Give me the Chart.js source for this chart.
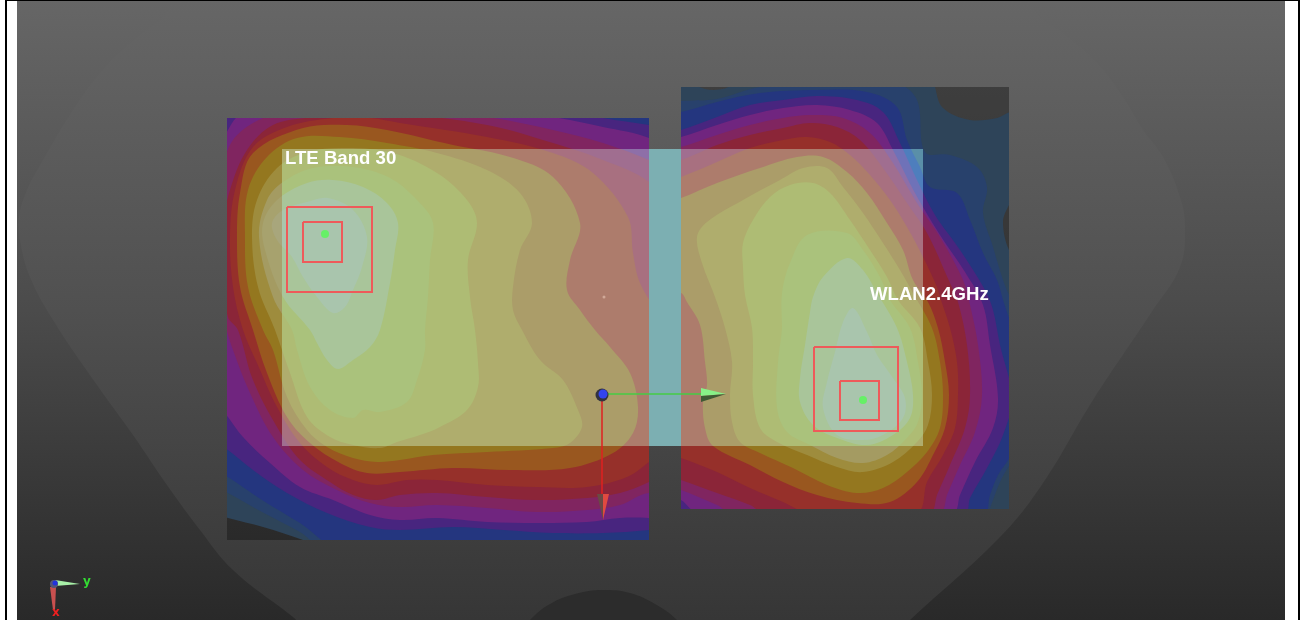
<!DOCTYPE html>
<html>
<head>
<meta charset="utf-8">
<title>SAR</title>
<script src="https://cdn.jsdelivr.net/npm/chart.js@4/dist/chart.umd.js"></script>
<style>
  html, body { margin: 0; padding: 0; background: #fff; overflow: hidden; }
  #frame { position: absolute; left: 5px; top: 0; width: 1291px; height: 620px; border: solid #000; border-width: 1px 2px 0 2px; }
  #scan { position: absolute; left: 0; top: 0; }
</style>
</head>
<body>
<div id="frame"></div>
<canvas id="scan" width="1303" height="620"></canvas>
<script>
// phantom outline and the darker dome at the bottom
const phantomOutline = [[190,-10],[160,20],[130,43],[100,73],[73,110],[43,160],[27,190],[19,217],[20,240],[30,277],[53,320],[97,385],[133,435],[167,485],[200,530],[233,570],[293,617],[320,640],[890,640],[910,620],[1000,537],[1043,483],[1093,400],[1153,310],[1180,267],[1185,227],[1180,197],[1163,157],[1143,130],[1123,97],[1097,63],[1063,33],[1040,17],[1015,-10]];
const domeOutline = [[515,640],[530,620],[550,604],[575,594],[603,590],[630,593],[655,604],[677,620],[692,640],[603,660]];

// left scan, contour levels from the outside in
const leftSlate = [[220,515],[228,518],[263,527],[303,540],[320,548],[660,548],[660,100],[220,100]];
const leftSteel = [[220,490],[228,493],[262,512],[300,532],[325,548],[660,548],[660,100],[220,100]];
const leftNavy = [[220,473],[228,477],[262,500],[300,523],[340,548],[660,550],[660,100],[220,100]];
const leftIndigo = [[220,445],[228,450],[253,470],[287,493],[327,513],[370,527],[400,530],[453,527],[503,530],[553,533],[603,533],[649,530],[665,527],[665,128],[649,125],[603,118],[553,108],[487,100],[300,95],[215,100]];
const leftPurple = [[220,407],[228,417],[243,437],[270,463],[300,487],[333,500],[370,515],[400,520],[437,518],[487,522],[537,523],[587,522],[620,518],[649,518],[667,520],[667,153],[649,138],[603,127],[553,117],[453,103],[320,93],[260,103],[237,117],[228,130],[222,143],[215,250]];
const leftMagenta = [[222,167],[233,140],[253,123],[280,112],[307,103],[403,108],[487,117],[553,130],[603,143],[649,160],[667,170],[667,503],[649,493],[620,505],[587,510],[537,512],[487,508],[437,505],[400,507],[370,503],[337,490],[303,470],[273,437],[250,393],[233,350],[225,323],[218,280],[215,200]];
const leftCrimson = [[230,190],[247,150],[273,125],[313,117],[353,112],[387,112],[487,125],[553,143],[603,160],[649,182],[667,210],[667,470],[649,482],[620,493],[587,498],[537,500],[487,497],[437,493],[400,495],[377,500],[353,495],[330,482],[300,460],[277,427],[253,380],[238,330],[228,317],[223,277],[223,227]];
const leftRed = [[230,237],[235,190],[253,147],[287,127],[333,118],[370,118],[400,123],[487,137],[553,153],[593,173],[628,217],[633,253],[640,283],[663,323],[667,343],[667,447],[649,462],[627,477],[587,487],[537,487],[487,485],[437,480],[407,480],[377,485],[353,480],[327,467],[300,443],[277,407],[257,363],[243,330],[233,287]];
const leftBrown = [[237,237],[240,193],[253,153],[303,128],[347,125],[387,130],[453,145],[510,157],[553,177],[580,223],[570,260],[567,290],[580,310],[595,330],[610,347],[630,373],[638,407],[633,433],[613,453],[570,468],[510,470],[453,468],[400,472],[367,473],[340,463],[310,443],[287,417],[267,373],[253,330],[240,287]];
const leftOlive = [[245,237],[248,190],[267,157],[297,138],[340,137],[387,143],[437,153],[487,170],[520,193],[532,223],[520,250],[513,287],[513,310],[522,330],[540,360],[563,380],[578,410],[582,427],[570,443],[553,448],[487,452],[433,455],[400,460],[377,462],[353,458],[327,447],[307,430],[287,397],[273,350],[263,330],[248,287]];
const leftYellow = [[252,237],[257,200],[277,168],[307,152],[347,148],[393,153],[437,173],[467,200],[477,223],[468,260],[470,297],[475,330],[478,363],[478,387],[467,410],[440,427],[420,435],[397,442],[380,448],[353,445],[330,437],[307,417],[290,373],[275,330],[258,287]];
const leftLime = [[259,237],[267,200],[283,182],[313,168],[353,167],[390,178],[417,200],[433,223],[430,260],[428,297],[425,330],[425,350],[417,380],[407,402],[380,412],[363,410],[353,418],[330,410],[310,387],[297,350],[292,330],[273,297]];
const leftGreen = [[265,250],[263,223],[277,200],[307,183],[333,180],[363,187],[387,203],[398,223],[395,250],[390,283],[380,330],[370,347],[353,360],[338,369],[327,360],[317,343],[310,330],[283,297]];
const leftPale = [[272,223],[283,210],[307,202],[328,198],[353,210],[367,237],[362,267],[353,290],[345,307],[333,313],[317,297],[303,277],[292,257],[277,240]];

// right scan, same levels
const rightSlate = [[1017,112],[997,118],[970,120],[943,108],[935,87],[933,73],[733,77],[730,86],[713,90],[697,86],[683,77],[663,77],[663,530],[1017,530],[1017,253],[1009,250],[1003,222],[1009,205],[1017,193]];
const rightSteel = [[670,102],[681,101],[717,99],[760,87],[817,84],[897,84],[917,100],[925,152],[950,155],[977,167],[987,187],[983,213],[993,247],[1003,280],[1013,307],[1020,350],[1020,440],[1000,482],[990,508],[987,515],[670,515]];
const rightNavy = [[670,112],[681,112],[717,102],[760,93],[817,90],[867,92],[897,107],[907,140],[920,167],[930,187],[957,193],[970,220],[983,253],[997,280],[1003,300],[1015,340],[1020,400],[1012,452],[998,475],[990,495],[983,515],[670,515]];
const rightIndigo = [[670,132],[681,130],[717,117],[750,105],[783,100],[817,96],[857,100],[883,112],[900,143],[917,180],[935,215],[960,250],[985,290],[993,310],[1000,345],[1012,398],[1003,435],[987,468],[970,498],[965,512],[670,512]];
const rightPurple = [[670,137],[681,137],[717,125],[750,115],[783,108],[817,105],[850,110],[877,123],[893,150],[915,193],[940,235],[965,272],[983,305],[990,345],[998,398],[993,428],[975,462],[960,495],[953,512],[697,512],[681,500],[670,498]];
const rightMagenta = [[670,147],[681,147],[717,135],[750,125],[783,118],[810,115],[843,118],[870,133],[893,163],[917,203],[940,237],[963,280],[970,305],[978,345],[982,395],[975,432],[960,465],[947,495],[940,512],[730,512],[717,505],[681,490],[670,487]];
const rightCrimson = [[670,160],[681,160],[717,145],[750,135],[783,128],[810,123],[837,127],[860,140],[883,168],[907,203],[927,233],[950,283],[958,302],[967,345],[970,395],[965,428],[950,465],[937,495],[930,512],[763,512],[750,505],[717,493],[681,480],[670,477]];
const rightRed = [[670,180],[681,177],[717,162],[750,148],[783,140],[807,137],[830,142],[850,155],[870,175],[890,200],[907,227],[923,257],[937,287],[940,297],[950,328],[957,362],[958,395],[955,428],[943,455],[927,482],[917,512],[807,512],[783,502],[750,488],[717,472],[681,458],[670,455]];
const rightBrown = [[670,200],[681,198],[717,183],[760,168],[797,157],[823,157],[847,172],[867,193],[887,223],[903,250],[913,280],[928,302],[938,328],[945,362],[949,395],[945,428],[933,455],[917,482],[890,502],[857,503],[817,495],[783,482],[750,465],[713,446],[705,428],[703,402],[707,385],[705,362],[700,325],[687,302],[681,293],[670,295]];
const rightOlive = [[697,237],[707,222],[743,200],[780,180],[803,168],[827,168],[843,187],[863,213],[883,243],[900,270],[913,293],[932,328],[940,362],[943,395],[940,428],[927,452],[907,472],[883,488],[857,493],[827,485],[793,468],[760,453],[740,442],[732,422],[730,395],[732,362],[725,328],[715,297],[702,263]];
const rightYellow = [[743,243],[753,220],[770,197],[790,185],[813,183],[830,193],[850,220],[870,250],[887,277],[898,300],[920,328],[928,362],[932,395],[928,425],[917,442],[893,462],[863,472],[837,467],[807,455],[777,442],[760,428],[753,395],[753,362],[752,328],[745,295],[743,267]];
const rightLime = [[782,293],[790,263],[807,235],[847,233],[863,250],[880,277],[890,300],[910,328],[918,362],[922,395],[918,422],[907,438],[887,455],[863,463],[837,458],[810,445],[787,432],[777,408],[778,362],[782,328]];
const rightGreen = [[813,297],[823,277],[847,258],[863,270],[877,293],[897,328],[907,362],[913,395],[910,418],[893,435],[867,445],[837,438],[813,425],[800,402],[800,378],[805,345],[810,312]];
const rightPale = [[853,308],[867,332],[877,355],[893,378],[905,398],[903,418],[883,435],[863,440],[837,435],[823,408],[827,382],[835,352],[843,322]];

const leftLevels = [leftSlate, leftSteel, leftNavy, leftIndigo, leftPurple, leftMagenta, leftCrimson, leftRed, leftBrown, leftOlive, leftYellow, leftLime, leftGreen, leftPale];
const rightLevels = [rightSlate, rightSteel, rightNavy, rightIndigo, rightPurple, rightMagenta, rightCrimson, rightRed, rightBrown, rightOlive, rightYellow, rightLime, rightGreen, rightPale];
const levelColors = ['#2e4459', '#28416c', '#24367f', '#48257f', '#70257f', '#802560', '#8b2538', '#96302a', '#99571f', '#94771f', '#9e8c3d', '#a49b62', '#a7a26e', '#a8a67c'];
const levelColorsLit = ['#5e989c', '#5a8fa8', '#4e7ebd', '#6f72b8', '#8e6fa8', '#a06e90', '#a87080', '#ad7c6c', '#ab9d69', '#afad6d', '#aebc74', '#aac27c', '#a9c59a', '#a9c5ad'];

// rectangles: x0, y0, x1, y1
const imageBox = [17, 1, 1285, 620];
const leftBox = [227, 118, 649, 540];
const rightBox = [681, 87, 1009, 509];
const litBox = [282, 149, 923, 446];
const leftLitBox = [282, 149, 649, 446];
const rightLitBox = [681, 149, 923, 446];
const peakBoxes = [[287, 207, 372, 292], [303, 222, 342, 262], [814, 347, 898, 431], [840, 381, 879, 420]];
const peakPoints = [[325, 234], [863, 400]];

const labelTexts = ['LTE Band 30', 'WLAN2.4GHz', 'y', 'x'];
const labelX = [285, 870, 83, 52];
const labelY = [164, 300, 585, 616];

function toPoints(list) {
    return list.map(p => ({ x: p[0], y: p[1] }));
}

function boxPoints(b) {
    return [[b[0], b[1]], [b[2], b[1]], [b[2], b[3]], [b[0], b[3]], [b[0], b[1]]];
}

function shape(list, color, clipBox, tension) {
    // smooth loops overlap a little at the seam so the spline has no kink there
    const loop = tension
        ? [list[list.length - 1]].concat(list, [list[0], list[1]])
        : list.concat([list[0]]);
    return {
        data: toPoints(loop),
        showLine: true,
        fill: 'shape',
        backgroundColor: color,
        borderWidth: 0,
        pointRadius: 0,
        tension: tension || 0,
        clipBox: clipBox
    };
}

function stroke(list, color, width) {
    return {
        data: toPoints(list),
        showLine: true,
        fill: false,
        borderColor: color,
        borderWidth: width,
        pointRadius: 0,
        tension: 0
    };
}

function dots(list, color, radius) {
    return {
        data: toPoints(list),
        showLine: false,
        backgroundColor: color,
        borderWidth: 0,
        pointRadius: radius
    };
}

// Filler paints inside beforeDatasetDraw, so the clip has to be registered ahead of it
const boxClip = {
    id: 'boxClip',
    beforeDatasetDraw(chart, args) {
        const b = chart.data.datasets[args.index].clipBox;
        if (!b) return;
        const x0 = chart.scales.x.getPixelForValue(b[0]);
        const x1 = chart.scales.x.getPixelForValue(b[2]);
        const y0 = chart.scales.y.getPixelForValue(b[1]);
        const y1 = chart.scales.y.getPixelForValue(b[3]);
        chart.ctx.save();
        chart.ctx.beginPath();
        chart.ctx.rect(x0, y0, x1 - x0, y1 - y0);
        chart.ctx.clip();
    },
    afterDatasetDraw(chart, args) {
        if (chart.data.datasets[args.index].clipBox) chart.ctx.restore();
    }
};
Chart.unregister(Chart.Filler);
Chart.register(boxClip);
Chart.register(Chart.Filler);

const labelPlugin = {
    id: 'labelPlugin',
    afterDatasetsDraw(chart) {
        const ctx = chart.ctx;
        ctx.save();
        ctx.textBaseline = 'alphabetic';
        labelTexts.forEach((t, i) => {
            ctx.font = i < 2 ? 'bold 18.6px "Liberation Sans"' : 'bold 12px "DejaVu Sans"';
            ctx.fillStyle = i < 2 ? '#ffffff' : (i === 2 ? '#33dd33' : '#ee2020');
            ctx.fillText(t, chart.scales.x.getPixelForValue(labelX[i]), chart.scales.y.getPixelForValue(labelY[i]));
        });
        ctx.restore();
    }
};

const canvas = document.getElementById('scan');
const ctx = canvas.getContext('2d');
const bgFill = ctx.createLinearGradient(0, 0, 0, 620);
bgFill.addColorStop(0, '#666666');
bgFill.addColorStop(0.5, '#4b4b4b');
bgFill.addColorStop(1, '#292929');
const bodyFill = ctx.createLinearGradient(0, 0, 0, 620);
bodyFill.addColorStop(0, '#666666');
bodyFill.addColorStop(0.5, '#505050');
bodyFill.addColorStop(1, '#363636');

const layers = [
    shape(boxPoints(imageBox), bgFill, imageBox),
    shape(phantomOutline, bodyFill, imageBox, 0.4),
    shape(domeOutline, '#2c2c2c', imageBox, 0.4),
    shape(boxPoints(leftBox), 'rgba(0,0,0,0.3)', leftBox),
    shape(boxPoints(rightBox), 'rgba(0,0,0,0.35)', rightBox)
];
leftLevels.forEach((lvl, i) => layers.push(shape(lvl, levelColors[i], leftBox, 0.35)));
rightLevels.forEach((lvl, i) => layers.push(shape(lvl, levelColors[i], rightBox, 0.35)));
layers.push(shape(boxPoints(litBox), '#7cafb2', litBox));
leftLevels.forEach((lvl, i) => layers.push(shape(lvl, levelColorsLit[i], leftLitBox, 0.35)));
rightLevels.forEach((lvl, i) => layers.push(shape(lvl, levelColorsLit[i], rightLitBox, 0.35)));

peakBoxes.forEach(b => layers.push(stroke(boxPoints(b), '#ee5a5a', 2)));
layers.push(dots(peakPoints, '#66f066', 4));
layers.push(dots([[604, 297]], '#d0a898', 1.5));

// big axis triad
layers.push(stroke([[606, 394], [705, 394]], '#44cc44', 1.5));
layers.push(stroke([[602, 400], [602, 496]], '#e02020', 1.5));
layers.push(shape([[701, 388], [726, 394], [701, 396]], '#88f088'));
layers.push(shape([[701, 396], [726, 394], [701, 402]], '#3f5a35'));
layers.push(shape([[603, 494], [609, 494], [603, 520]], '#e04a40'));
layers.push(shape([[597, 494], [603, 494], [603, 520]], '#6a4a44'));
layers.push(dots([[602, 395]], '#33333f', 6.5));
layers.push(dots([[603, 394]], '#3344ee', 4.5));

// small triad, lower left
layers.push(shape([[55, 580], [80, 584], [55, 586]], '#a8f0a8'));
layers.push(shape([[50, 587], [56, 587], [55, 610], [53, 610]], '#c8504f'));
layers.push(dots([[54, 584]], '#555577', 4));
layers.push(dots([[55, 583]], '#2233dd', 2.5));

new Chart(canvas, {
    type: 'scatter',
    data: { datasets: layers.slice().reverse() },
    plugins: [labelPlugin],
    options: {
        responsive: false,
        animation: false,
        layout: { padding: 0, autoPadding: false },
        plugins: { legend: { display: false }, tooltip: { enabled: false } },
        scales: {
            x: { type: 'linear', display: false, min: 0, max: 1303 },
            y: { type: 'linear', display: false, min: 0, max: 620, reverse: true }
        }
    }
});
</script>
</body>
</html>
